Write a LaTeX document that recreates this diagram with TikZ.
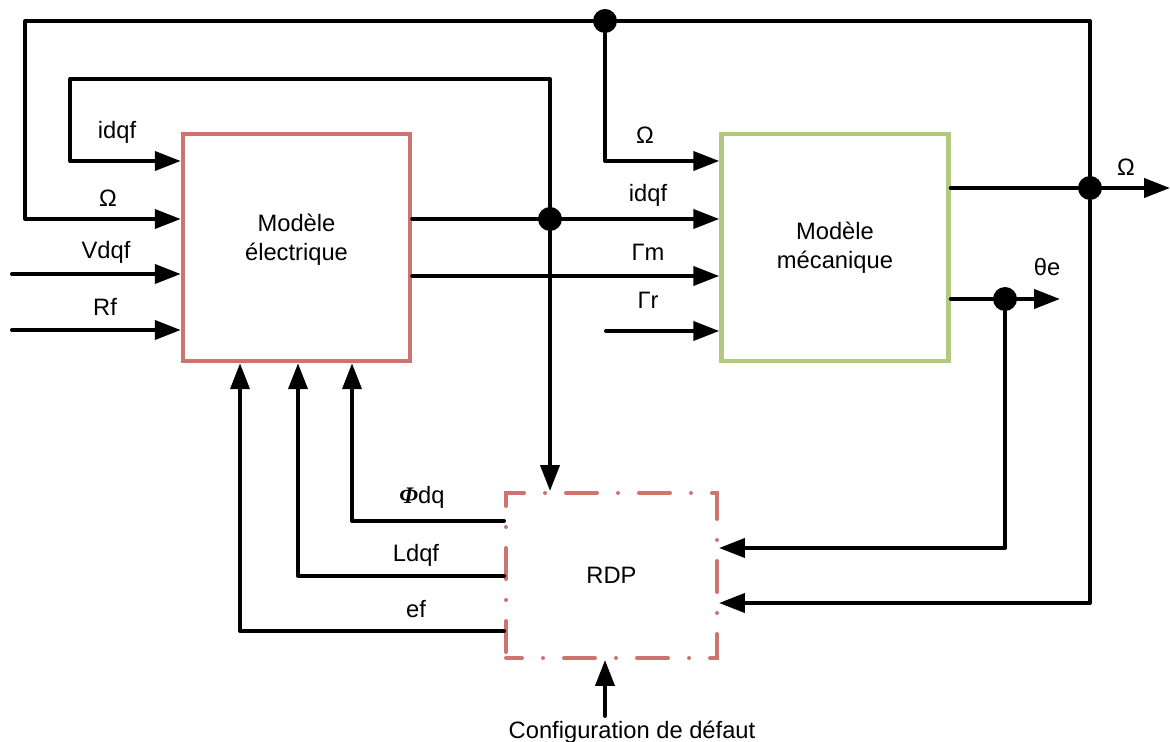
\documentclass[tikz,border=0pt]{standalone}
\usepackage{fontspec}
\setmainfont{Liberation Sans}
\newfontfamily\phifont{Liberation Serif}
\usetikzlibrary{arrows.meta,positioning}

\definecolor{elecred}{RGB}{206,116,110}
\definecolor{mecagreen}{RGB}{180,201,128}

\begin{document}
\begin{tikzpicture}[x=0.02cm,y=-0.02cm]
\tikzset{
  blockbox/.style={rectangle,draw,line width=0.09cm,minimum width=4.54cm,minimum height=4.54cm,align=center,font=\fontsize{13.5}{16.5}\selectfont},
  rdpbox/.style={blockbox,line width=0.08cm,line cap=round,minimum width=4.22cm,minimum height=3.3cm,
    dash pattern=on 0.62cm off 0.42cm on 0cm off 0.42cm,dash phase=0.3cm},
  sigline/.style={draw=black,line width=0.08cm,line cap=round,line join=round},
  sigarrow/.style={sigline,-{Triangle[length=0.52cm,width=0.38cm]}},
  junction/.style={circle,fill=black,inner sep=0pt,minimum size=0.48cm},
  siglabel/.style={font=\fontsize{13.5}{16}\selectfont,inner sep=0pt}
}
\useasboundingbox (0,0) rectangle (1170,742);
% blocks
\node[blockbox,draw=elecred,text depth=0.42cm] (n_elec) at (296.5,247.5) {Modèle\\électrique};
\node[blockbox,draw=mecagreen] (n_meca) at (835,247.5) {Modèle\\mécanique};
\node[rdpbox,draw=elecred] (n_rdp) at (611.5,575.5) {RDP};
% junctions
\node[junction] (j_top) at (605,21) {};
\node[junction] (j_idq) at (550,219) {};
\node[junction] (j_om) at (1090,188) {};
\node[junction] (j_th) at (1005,299) {};
% free ends
\coordinate (in_vdqf) at (12,274);
\coordinate (in_rf) at (12,330);
\coordinate (in_gr) at (606,331);
\coordinate (out_om) at (1170,188);
\coordinate (out_th) at (1060,299);
\coordinate (in_conf) at (605,716);
% feedback of Omega
\draw[sigline] (j_om) |- (j_top);
\draw[sigarrow] (j_top) -| (25,219) -- (n_elec.west |- 0,219);
\draw[sigarrow] (j_top) |- (n_meca.west |- 0,161);
\draw[sigline] (n_meca.east |- j_om) -- (j_om);
\draw[sigarrow] (j_om) -- (out_om);
\draw[sigarrow] (j_om) |- (n_rdp.east |- 0,603);
% theta e
\draw[sigline] (n_meca.east |- j_th) -- (j_th);
\draw[sigarrow] (j_th) -- (out_th);
\draw[sigarrow] (j_th) |- (n_rdp.east |- 0,548);
% currents
\draw[sigline] (n_elec.east |- j_idq) -- (j_idq);
\draw[sigarrow] (j_idq) -- (n_meca.west |- j_idq);
\draw[sigarrow] (j_idq) |- (70,79) |- (n_elec.west |- 0,161);
\draw[sigarrow] (j_idq) -- (n_rdp.north -| j_idq);
\draw[sigarrow] (n_elec.east |- 0,276) -- (n_meca.west |- 0,276);
% external inputs
\draw[sigarrow] (in_vdqf) -- (n_elec.west |- in_vdqf);
\draw[sigarrow] (in_rf) -- (n_elec.west |- in_rf);
\draw[sigarrow] (in_gr) -- (n_meca.west |- in_gr);
\draw[sigarrow] (in_conf) -- (n_rdp.south -| in_conf);
% RDP outputs
\draw[sigarrow] (n_rdp.west |- 0,521) -| (n_elec.south -| 352,0);
\draw[sigarrow] (n_rdp.west |- 0,576) -| (n_elec.south -| 298,0);
\draw[sigarrow] (n_rdp.west |- 0,631) -| (n_elec.south -| 240,0);
% labels
\node[siglabel] (l_idqf1) at (117,132) {idqf};
\node[siglabel] (l_om1) at (108,198) {Ω};
\node[siglabel] (l_vdqf) at (106,252) {Vdqf};
\node[siglabel] (l_rf) at (105,307) {Rf};
\node[siglabel] (l_om2) at (645,135) {Ω};
\node[siglabel] (l_idqf2) at (648,195) {idqf};
\node[siglabel] (l_gm) at (648,252) {Γm};
\node[siglabel] (l_gr) at (648,300) {Γr};
\node[siglabel] (l_om3) at (1126,167) {Ω};
\node[siglabel] (l_th) at (1047,267) {θe};
\node[siglabel] (l_phi) at (422,497) {{\phifont\bfseries\itshape Φ}dq};
\node[siglabel] (l_ldqf) at (416,555) {Ldqf};
\node[siglabel] (l_ef) at (416,609) {ef};
\node[siglabel] (l_conf) at (632,732) {Configuration de défaut};
\end{tikzpicture}
\end{document}
